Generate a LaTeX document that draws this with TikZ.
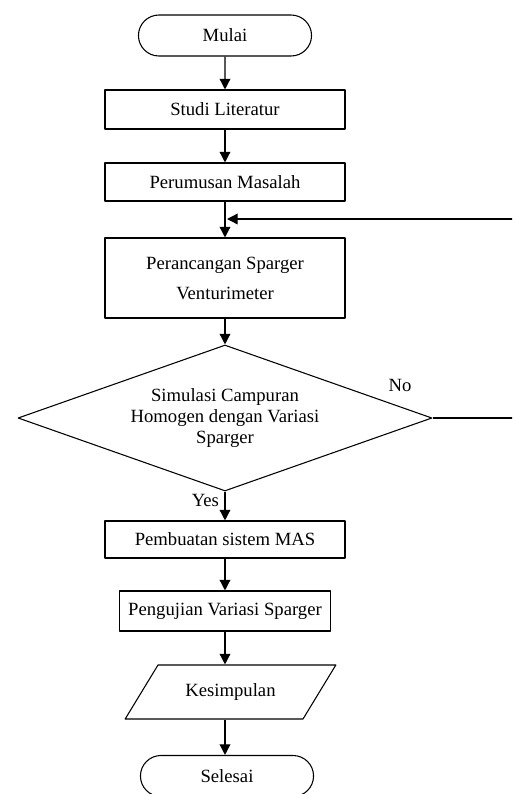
\documentclass[tikz,border=0pt]{standalone}
\usepackage{fontspec}
\setmainfont{Liberation Serif}
\usetikzlibrary{shapes.geometric,shapes.misc,arrows.meta}
\tikzset{
	proses/.style={draw,line width=0.8pt,minimum height=28.5pt,minimum width=180pt,inner sep=2pt},
	terminal/.style={draw,rounded rectangle,line width=0.8pt,minimum width=136.5pt,minimum height=30.75pt},
	keputusan/.style={draw,diamond,aspect=2.84,line width=0.8pt,minimum width=310.5pt,minimum height=109.5pt,inner sep=0pt,align=center,font=\fontsize{14}{16}\selectfont},
	luaran/.style={draw,trapezium,trapezium left angle=49,trapezium right angle=131,trapezium stretches=true,line width=0.8pt,minimum width=158.25pt,minimum height=40.5pt},
	panah/.style={-{Triangle[length=8pt,width=8pt]},line width=1pt}
}
\begin{document}
\begin{tikzpicture}[x=0.75pt,y=-0.75pt,line join=round,font=\fontsize{14}{16}\selectfont]
	\def\xm{225} % sumbu utama
	\useasboundingbox (0,0) rectangle (512,794);
	\clip (0,0) rectangle (512,794);
	\node[terminal] (mulai) at (\xm,35.5) {Mulai};
	\node[proses,minimum height=29.25pt] (studi) at (\xm,109.5) {Studi Literatur};
	\node[proses] (rumus) at (\xm,182) {Perumusan Masalah};
	\node[proses,minimum height=60pt,align=center] (rancang) at (\xm,278) {Perancangan Sparger\\[6.5pt]Venturimeter};
	\node[keputusan] (simulasi) at (\xm,418) {Simulasi Campuran\\Homogen dengan Variasi\\Sparger};
	\node[proses,minimum height=27.75pt] (buat) at (\xm,539.5) {Pembuatan sistem MAS};
	\node[proses,minimum width=158.25pt,minimum height=30pt] (uji) at (\xm,611) {Pengujian Variasi Sparger};
	\node[luaran] (kes) at (230.5,692) {Kesimpulan};
	\node[terminal] (selesai) at (227,776) {Selesai};
	\coordinate (gabung) at (\xm,219);
	\coordinate (kanan) at (520,418);
	\draw[panah] (mulai) -- (studi);
	\draw[panah] (studi) -- (rumus);
	\draw[panah] (rumus) -- (rancang);
	\draw[panah] (rancang) -- (simulasi);
	\draw[panah] (simulasi) -- node[pos=0.3,left,inner sep=4pt] (yes) {Yes} (buat);
	\draw[panah] (buat) -- (uji);
	\draw[panah] (uji.south) -- (uji.south |- kes.north);
	\draw[panah] (uji.south |- kes.south) -- (uji.south |- selesai.north);
	\draw[line width=0.8pt] (simulasi.east) -- (kanan);
	\draw[panah] (kanan) |- ([xshift=1.5pt]gabung);
	\node (no) at (400,385) {No};
\end{tikzpicture}
\end{document}
